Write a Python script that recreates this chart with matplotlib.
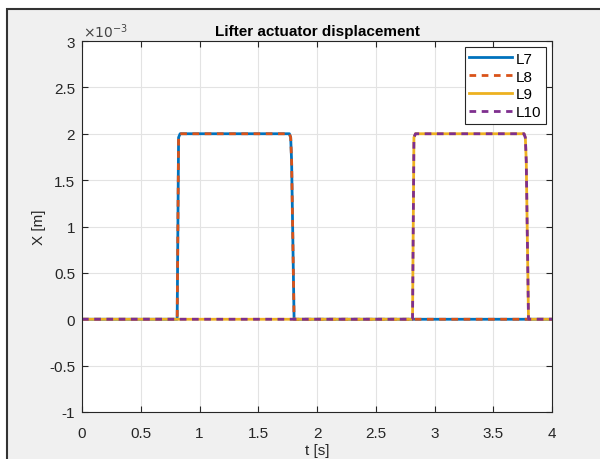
import numpy as np
import matplotlib.pyplot as plt
from matplotlib.patches import Rectangle
from matplotlib.ticker import FuncFormatter

plt.rcParams['font.family'] = ['Liberation Sans', 'DejaVu Sans']

# time [s] and displacement [m]
t_L7 = [0, 0.81, 0.822, 0.835, 1.765, 1.776, 1.784, 1.805, 4]
x_L7 = [0, 0, 0.00196, 0.002, 0.002, 0.00196, 0.0017, 0, 0]
t_L8 = [0, 0.81, 0.822, 0.835, 1.765, 1.776, 1.784, 1.805, 4]
x_L8 = [0, 0, 0.00196, 0.002, 0.002, 0.00196, 0.0017, 0, 0]
t_L9 = [0, 2.813, 2.825, 2.838, 3.762, 3.773, 3.781, 3.80, 4]
x_L9 = [0, 0, 0.00196, 0.002, 0.002, 0.00196, 0.0017, 0, 0]
t_L10 = [0, 2.813, 2.825, 2.838, 3.762, 3.773, 3.781, 3.80, 4]
x_L10 = [0, 0, 0.00196, 0.002, 0.002, 0.00196, 0.0017, 0, 0]

fig = plt.figure(figsize=(6, 4.6), dpi=100, facecolor='white')
# matlab figure window background with its border
fig.patches.append(Rectangle((6.5/600, -0.1), 1.2, 1 - 9.5/460 + 0.1,
                             transform=fig.transFigure, facecolor='#f0f0f0',
                             edgecolor='#333333', linewidth=1.5, zorder=-10))

ax = fig.add_axes([82/600, 1 - 413/460, 470/600, 371/460])
ax.plot(t_L7, x_L7, color='#0072BD', lw=2, label='L7')
ax.plot(t_L8, x_L8, color='#D95319', lw=2, ls=(0, (2.4, 2)), label='L8')
ax.plot(t_L9, x_L9, color='#EDB120', lw=2, label='L9')
ax.plot(t_L10, x_L10, color='#7E2F8E', lw=2, ls=(0, (2.4, 2)), label='L10')

ax.set_xlim(0, 4)
ax.set_ylim(-1e-3, 3e-3)
ax.set_xticks(np.arange(0, 4.01, 0.5))
ax.set_yticks(np.arange(-1e-3, 3.01e-3, 0.5e-3))
ax.xaxis.set_major_formatter(FuncFormatter(lambda v, p: f'{v:g}'))
ax.yaxis.set_major_formatter(FuncFormatter(lambda v, p: f'{round(v*1e3, 2):g}'))
ax.tick_params(direction='in', top=True, right=True, labelsize=11,
               color='#262626', labelcolor='#262626', length=4)
ax.tick_params(axis='x', pad=10)
ax.tick_params(axis='y', pad=5)
for s in ax.spines.values():
    s.set_color('#262626')
    s.set_linewidth(0.8)
ax.grid(True, color='#e3e3e3', lw=0.8)
ax.set_axisbelow(True)

ax.text(0.002, 1.003, r'$\times10^{-3}$', transform=ax.transAxes, fontsize=10,
        color='#444444', ha='left', va='bottom')
ax.set_title('Lifter actuator displacement', fontsize=11, fontweight='bold',
             color='#000000', pad=4)
ax.set_xlabel('t [s]', fontsize=11, color='#262626', labelpad=2)
ax.set_ylabel('X [m]', fontsize=11, color='#262626', labelpad=2)

leg = ax.legend(loc='upper right', fontsize=11, fancybox=False, framealpha=1,
                edgecolor='#262626', handlelength=2.8, handletextpad=0.25,
                borderpad=0.3, labelspacing=0.25, borderaxespad=0.4)
leg.get_frame().set_linewidth(0.8)

fig.savefig('out.png', dpi=100, facecolor=fig.get_facecolor())
